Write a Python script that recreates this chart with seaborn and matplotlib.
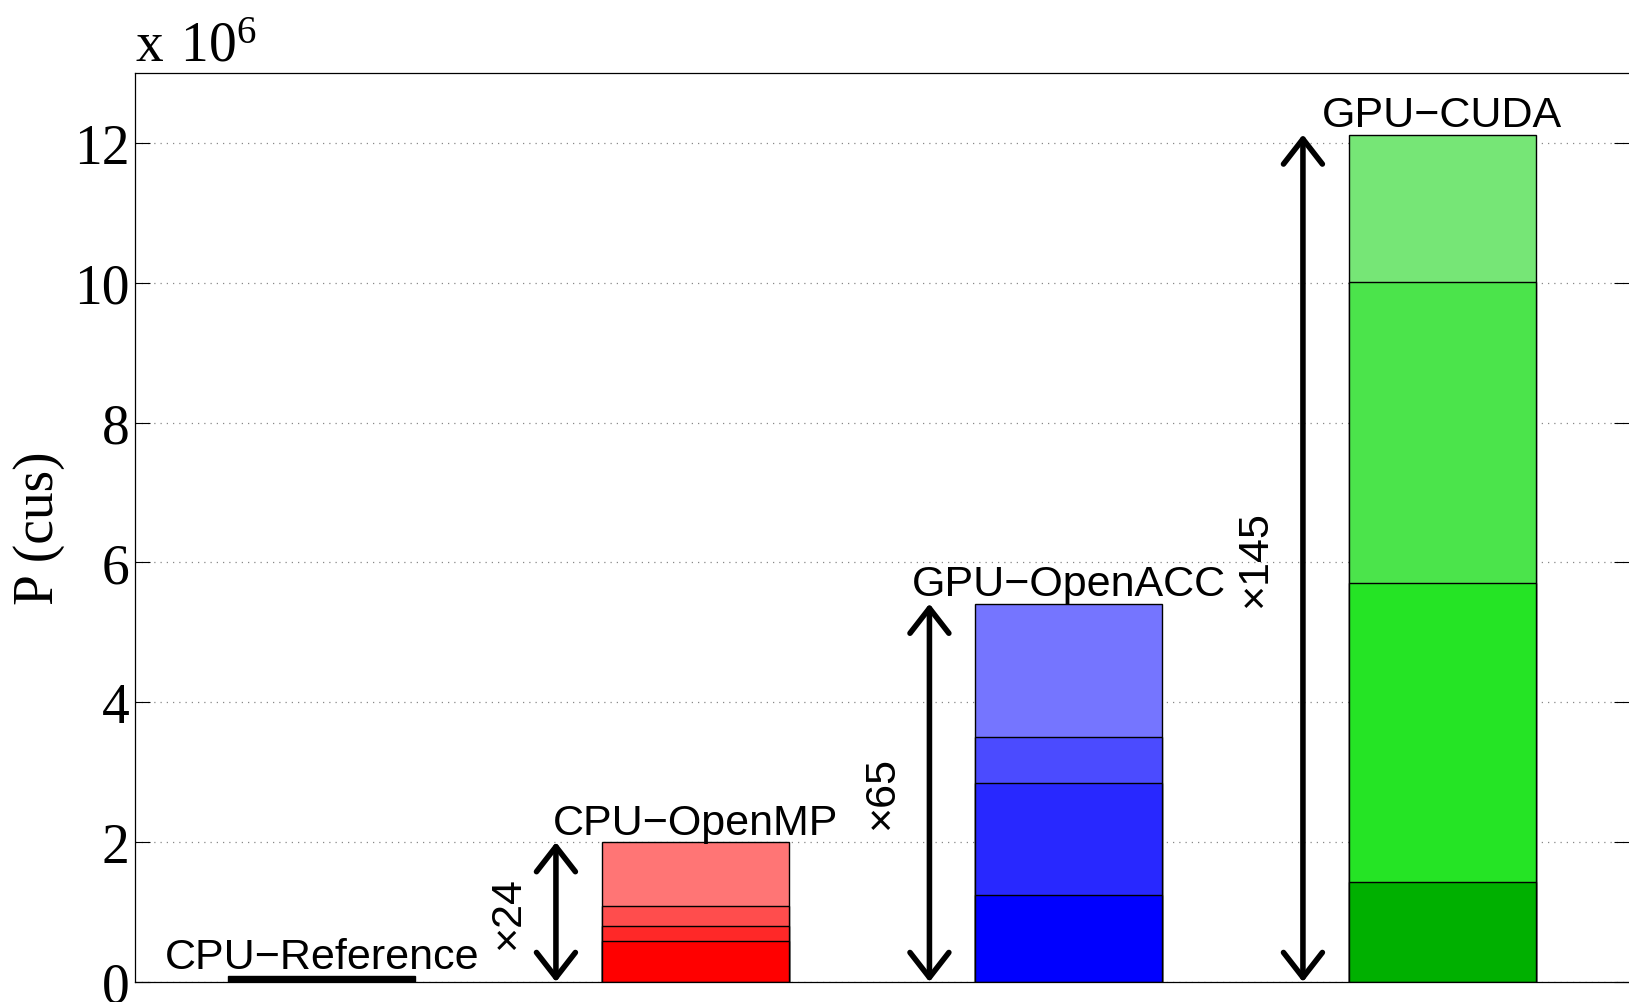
import numpy as np
import matplotlib
matplotlib.use("Agg")
import matplotlib.pyplot as plt
import seaborn as sns

# ---- data ----
labels = ["CPU\u2212Reference", "CPU\u2212OpenMP", "GPU\u2212OpenACC", "GPU\u2212CUDA"]
positions = [1, 2, 3, 4]
seg_ref = [0.083]
seg_openmp = [0.58, 0.22, 0.29, 0.91]
seg_openacc = [1.25, 1.59, 0.67, 1.90]
seg_cuda = [1.43, 4.28, 4.30, 2.11]
speedups = ["\u00d724", "\u00d765", "\u00d7145"]
yticks = [0, 2, 4, 6, 8, 10, 12]

col_ref = ["#000000"]
col_red = ["#FF0000", "#FF2828", "#FF4D4D", "#FF7575"]
col_blue = ["#0000FF", "#2828FF", "#4B4BFF", "#7575FF"]
col_green = ["#00B000", "#25E425", "#4BE44B", "#76E676"]

segments = [seg_ref, seg_openmp, seg_openacc, seg_cuda]
colors = [col_ref, col_red, col_blue, col_green]

sns.set_style("white")
plt.rcParams["font.family"] = ["Liberation Sans", "DejaVu Sans"]
plt.rcParams["mathtext.fontset"] = "custom"
plt.rcParams["mathtext.rm"] = "Liberation Serif"
plt.rcParams["text.color"] = "black"
plt.rcParams["axes.labelcolor"] = "black"
plt.rcParams["ytick.color"] = "black"

fig = plt.figure(figsize=(16.29, 10.03), dpi=100)
ax = fig.add_axes([135 / 1629, 20 / 1003, (1629 - 135) / 1629, 909 / 1003])

for pos, segs, cols in zip(positions, segments, colors):
    cum = np.cumsum(segs)
    for k in range(len(segs) - 1, -1, -1):
        sns.barplot(x=[pos], y=[cum[k]], color=cols[k], saturation=1,
                    native_scale=True, width=0.5, errorbar=None,
                    edgecolor="black", linewidth=1.0, ax=ax, zorder=2)

totals = [float(np.sum(s)) for s in segments]

for pos, lab, tot in zip(positions, labels, totals):
    ax.annotate(lab, xy=(pos, tot), xytext=(0, 6), textcoords="offset points",
                ha="center", va="baseline", fontsize=31, color="black",
                family=["Liberation Sans", "DejaVu Sans"], zorder=5)

arrow_off = 0.373
label_off = 0.5
for pos, tot, sp in zip(positions[1:], totals[1:], speedups):
    ax.annotate("", xy=(pos - arrow_off, tot), xytext=(pos - arrow_off, 0),
                arrowprops=dict(arrowstyle="<->,head_length=18,head_width=14",
                                lw=4, color="black", shrinkA=0, shrinkB=0,
                                mutation_scale=1),
                zorder=6)
    ax.text(pos - label_off, tot / 2, sp, rotation=90, ha="center", va="center",
            fontsize=31, color="black", family=["Liberation Sans", "DejaVu Sans"])

ax.set_xlim(0.5, 4.5)
ax.set_ylim(0, 13)
ax.set_yticks(yticks)
ax.set_yticklabels([str(t) for t in yticks], family="Liberation Serif", fontsize=40)
ax.set_xticks([])
ax.set_xlabel("")
ax.tick_params(axis="y", direction="in", length=11, width=0.8, left=True,
               right=True, pad=4, colors="black")
ax.yaxis.grid(True, linestyle=(0, (1, 4)), color="#888888", linewidth=0.9)
ax.set_axisbelow(True)
ax.spines["right"].set_visible(False)
for s in ["left", "top", "bottom"]:
    ax.spines[s].set_color("black")
    ax.spines[s].set_linewidth(0.9)

ax.set_ylabel("P (cus)", family="Liberation Serif", fontsize=40, color="black")
ax.yaxis.set_label_coords(-0.047, 0.5)

ax.text(0, 1.0, r"$\mathrm{x\ 10^{6}}$", transform=ax.transAxes, ha="left",
        va="bottom", fontsize=40, color="black")

fig.savefig("out.png", dpi=100)
